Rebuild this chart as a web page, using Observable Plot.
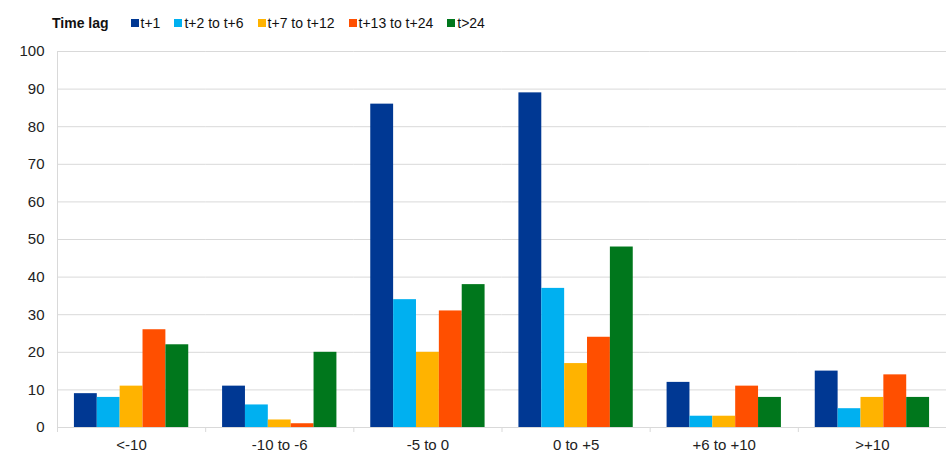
<!DOCTYPE html>
<html>
<head>
<meta charset="utf-8">
<script src="https://cdn.jsdelivr.net/npm/d3@7"></script>
<script src="https://cdn.jsdelivr.net/npm/@observablehq/plot@0.6"></script>
<style>
  body { margin: 0; background: #fff; font-family: "Liberation Sans", Arial, sans-serif; }
  #legend { height: 34px; padding-top: 6px; padding-left: 52px; display: flex; align-items: center; font-size: 14px; color: #111; }
  #legend .title { font-weight: bold; margin-right: 22px; }
  #legend .item { display: flex; align-items: center; margin-right: 14px; }
  #legend .sw { width: 8px; height: 8px; margin-right: 2px; display: inline-block; }
</style>
</head>
<body>
<div id="legend"></div>
<div id="chart"></div>
<script>
const categories = ["<-10", "-10 to -6", "-5 to 0", "0 to +5", "+6 to +10", ">+10"];
const series = ["t+1", "t+2 to t+6", "t+7 to t+12", "t+13 to t+24", "t>24"];
const seriesColors = ["#003893", "#00b0f0", "#ffb300", "#ff4f00", "#00771c"];
const t1 = [9, 11, 86, 89, 12, 15];
const t2to6 = [8, 6, 34, 37, 3, 5];
const t7to12 = [11, 2, 20, 17, 3, 8];
const t13to24 = [26, 1, 31, 24, 11, 14];
const tOver24 = [22, 20, 38, 48, 8, 8];
const yTicks = [0, 10, 20, 30, 40, 50, 60, 70, 80, 90, 100];

const seriesValues = [t1, t2to6, t7to12, t13to24, tOver24];
const data = [];
categories.forEach((c, i) => {
  series.forEach((s, j) => data.push({category: c, series: s, value: seriesValues[j][i]}));
});

// legend
const legend = document.getElementById("legend");
const title = document.createElement("span");
title.className = "title";
title.textContent = "Time lag";
legend.appendChild(title);
series.forEach((s, j) => {
  const item = document.createElement("span");
  item.className = "item";
  const sw = document.createElement("span");
  sw.className = "sw";
  sw.style.background = seriesColors[j];
  item.appendChild(sw);
  item.appendChild(document.createTextNode(s));
  legend.appendChild(item);
});

const W = 952, mL = 57, mR = 6;
const band = (W - mL - mR) / categories.length;

const chart = Plot.plot({
  width: W,
  height: 423,
  marginTop: 11,
  marginBottom: 36,
  marginLeft: mL,
  marginRight: mR,
  style: {fontFamily: "Liberation Sans, Arial, sans-serif", fontSize: "15px", color: "#222", background: "#fff"},
  fx: {domain: categories, padding: 0, axis: null, round: false},
  x: {domain: series, paddingInner: 0, paddingOuter: 0.74, axis: null, round: false},
  y: {domain: [0, 100], axis: null},
  color: {domain: series, range: seriesColors},
  marks: [
    Plot.gridY(yTicks, {stroke: "#d9d9d9", strokeOpacity: 1}),
    Plot.axisY(yTicks, {anchor: "left", tickSize: 0, tickPadding: 13, facetAnchor: "left", fontSize: 15, label: null}),
    Plot.ruleY([0], {stroke: "#d9d9d9"}),
    Plot.frame({anchor: "left", stroke: "#d9d9d9", facetAnchor: "left"}),
    Plot.frame({anchor: "right", stroke: "#d9d9d9", facetAnchor: "right", strokeOpacity: 0}),
    Plot.barY(data, {fx: "category", x: "series", y: "value", fill: "series"}),
    Plot.axisFx({anchor: "bottom", tickSize: 5, tickFormat: () => "", dx: -band / 2, stroke: "#d9d9d9", label: null}),
    Plot.axisFx({anchor: "bottom", tickSize: 0, tickPadding: 12, fontSize: 15, label: null})
  ]
});
document.getElementById("chart").appendChild(chart);
</script>
</body>
</html>
